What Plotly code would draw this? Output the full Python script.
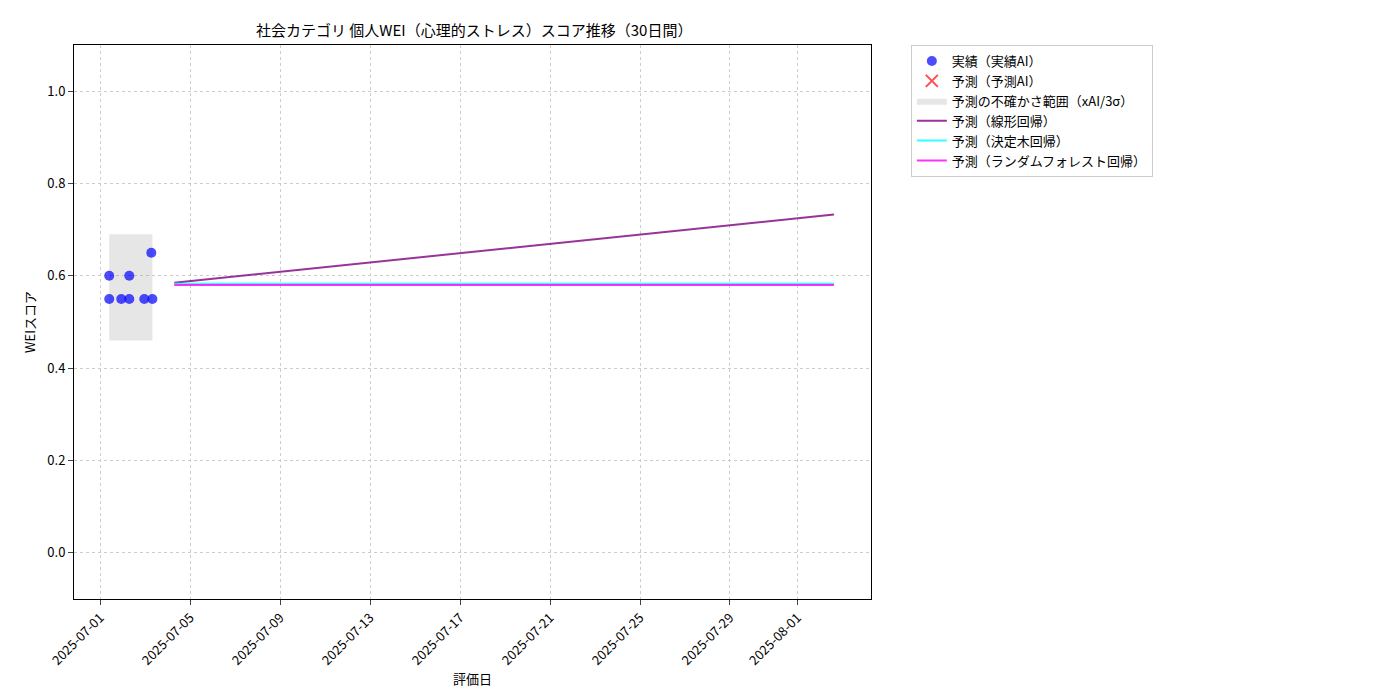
import plotly.graph_objects as go

act_dates = ["2025-07-01 09:36", "2025-07-01 09:36", "2025-07-01 22:24", "2025-07-02 07:00",
             "2025-07-02 07:00", "2025-07-02 23:00", "2025-07-03 06:30", "2025-07-03 07:40"]
act_vals = [0.60, 0.55, 0.55, 0.60, 0.55, 0.55, 0.65, 0.55]
band_x = ["2025-07-01 09:36", "2025-07-03 07:40"]
band_lo, band_hi = 0.46, 0.69
pred_x = ["2025-07-04 07:00", "2025-08-02 15:00"]
lin_vals = [0.585, 0.733]
tree_vals = [0.583, 0.583]
rf_vals = [0.580, 0.580]
tick_dates = ["2025-07-01", "2025-07-05", "2025-07-09", "2025-07-13", "2025-07-17",
              "2025-07-21", "2025-07-25", "2025-07-29", "2025-08-01"]

F = "Noto Sans CJK JP"
fig = go.Figure()
fig.add_trace(go.Scatter(x=[band_x[0], band_x[1], band_x[1], band_x[0], band_x[0]],
                         y=[band_lo, band_lo, band_hi, band_hi, band_lo],
                         fill="toself", fillcolor="rgba(128,128,128,0.2)", line=dict(width=0),
                         mode="lines", name="予測の不確かさ範囲（xAI/3σ）", legendrank=3))
fig.add_trace(go.Scatter(x=act_dates, y=act_vals, mode="markers", name="実績（実績AI）",
                         marker=dict(color="rgba(0,0,255,0.7)", size=10), legendrank=1))
fig.add_trace(go.Scatter(x=[None], y=[None], mode="markers", name="予測（予測AI）",
                         marker=dict(color="rgba(255,0,0,0.7)", symbol="x-thin", size=12,
                                     line=dict(width=2, color="rgba(255,0,0,0.7)")), legendrank=2))
fig.add_trace(go.Scatter(x=pred_x, y=lin_vals, mode="lines", name="予測（線形回帰）",
                         line=dict(color="purple", width=2), opacity=0.8, legendrank=4))
fig.add_trace(go.Scatter(x=pred_x, y=tree_vals, mode="lines", name="予測（決定木回帰）",
                         line=dict(color="cyan", width=2), opacity=0.8, legendrank=5))
fig.add_trace(go.Scatter(x=pred_x, y=rf_vals, mode="lines", name="予測（ランダムフォレスト回帰）",
                         line=dict(color="magenta", width=2), opacity=0.8, legendrank=6))

fig.update_layout(
    width=1400, height=700, plot_bgcolor="white", paper_bgcolor="white",
    font=dict(family=F, size=12, color="black"),
    margin=dict(l=66, r=537, t=37, b=109),
    title=dict(text="社会カテゴリ 個人WEI（心理的ストレス）スコア推移（30日間）", x=0.333, xanchor="center",
               y=0.975, font=dict(size=15)),
    legend=dict(x=1.05, y=1.0, xanchor="left", yanchor="top", bordercolor="#ccc", borderwidth=1,
                font=dict(size=13), tracegroupgap=0),
    showlegend=True,
)
fig.update_xaxes(range=["2025-06-29 20:00", "2025-08-04 06:30"], tickvals=tick_dates,
                 ticktext=tick_dates, tickangle=-45, showline=True, linecolor="black", mirror=True,
                 showgrid=True, gridcolor="#ccc", griddash="dot", ticks="outside", automargin=False,
                 tickfont=dict(size=13), title=dict(text="評価日", standoff=2, font=dict(size=13)))
fig.update_yaxes(range=[-0.1, 1.1], dtick=0.2, tickformat=".1f", showline=True, linecolor="black",
                 mirror=True, showgrid=True, gridcolor="#ccc", griddash="dot", ticks="outside",
                 zeroline=False, automargin=False, tickfont=dict(size=13),
                 title=dict(text="WEIスコア", standoff=8, font=dict(size=13)))
fig.write_html("out.html")
